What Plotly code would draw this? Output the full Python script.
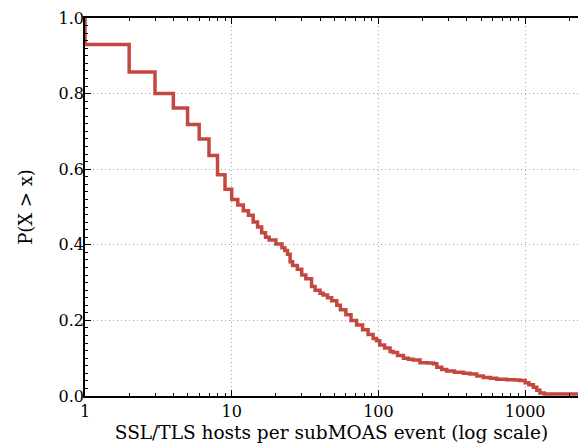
import plotly.graph_objects as go

# CCDF of SSL/TLS hosts per subMOAS event
hosts = [1, 1, 2, 3, 4, 5, 6, 7, 8, 9, 10, 11, 12, 13, 14, 15, 16, 17, 18, 20,
         22, 23, 24, 25, 26, 28, 30, 32, 35, 37, 40, 42, 45, 48, 52, 55, 60, 65,
         71, 78, 85, 92, 97, 102, 110, 120, 126, 135, 148, 160, 172, 192, 215,
         237, 250, 270, 292, 330, 379, 420, 468, 519, 580, 640, 750, 850, 923,
         1000, 1060, 1137, 1200, 1260, 1350, 1500, 1800, 2300]
prob = [1.0, 0.93, 0.857, 0.80, 0.762, 0.718, 0.68, 0.636, 0.585, 0.547, 0.52,
        0.505, 0.49, 0.478, 0.46, 0.447, 0.432, 0.42, 0.413, 0.402, 0.392, 0.385,
        0.375, 0.355, 0.345, 0.335, 0.32, 0.31, 0.29, 0.28, 0.272, 0.267, 0.26,
        0.252, 0.24, 0.228, 0.215, 0.2, 0.188, 0.175, 0.163, 0.152, 0.146, 0.135,
        0.127, 0.118, 0.115, 0.107, 0.100, 0.097, 0.095, 0.088, 0.087, 0.085,
        0.076, 0.07, 0.066, 0.063, 0.060, 0.058, 0.053, 0.049, 0.047, 0.044,
        0.043, 0.042, 0.041, 0.035, 0.03, 0.023, 0.015, 0.008, 0.005, 0.005,
        0.005, 0.005]

x_ticks = [1, 10, 100, 1000]
x_ticklabels = ["1", "10", "100", "1000"]
x_minor = [m * d for d in (1, 10, 100) for m in range(2, 10)] + [2000]
y_ticks = [0.0, 0.2, 0.4, 0.6, 0.8, 1.0]
y_ticklabels = ["0.0", "0.2", "0.4", "0.6", "0.8", "1.0"]

fig = go.Figure()
fig.add_trace(go.Scatter(
    x=hosts, y=prob, mode="lines",
    line=dict(color="#c4483f", width=3.5, shape="hv"),
    showlegend=False,
))

font = dict(family="DejaVu Serif", size=16, color="black")
grid = dict(showgrid=True, gridcolor="#a8a8a8", griddash="1px,3px", gridwidth=1)
fig.update_layout(
    width=578, height=443,
    margin=dict(l=85, r=0, t=18, b=47),
    paper_bgcolor="white", plot_bgcolor="white",
    font=font,
    xaxis=dict(
        type="log", range=[0, 3.36],
        tickvals=x_ticks, ticktext=x_ticklabels,
        ticks="inside", ticklen=6, tickwidth=1, tickcolor="black",
        showline=True, linecolor="black", linewidth=1.5, mirror="ticks",
        zeroline=False,
        minor=dict(tickvals=x_minor, ticks="inside", ticklen=3, tickcolor="black",
                   showgrid=False),
        title=dict(text="SSL/TLS hosts per subMOAS event (log scale)",
                   font=dict(family="DejaVu Serif", size=18.5), standoff=6),
        **grid,
    ),
    yaxis=dict(
        range=[0, 1.0],
        tickvals=y_ticks, ticktext=y_ticklabels,
        ticks="inside", ticklen=6, tickwidth=1, tickcolor="black",
        ticklabelstandoff=-4,
        showline=True, linecolor="black", linewidth=1.5, mirror=False,
        zeroline=False,
        minor=dict(ticks="inside", ticklen=3, tickcolor="black", dtick=0.02,
                   showgrid=False),
        title=dict(text="P(X > x)", font=dict(family="DejaVu Serif", size=18),
                   standoff=21),
        **grid,
    ),
)

fig.write_html("out.html")
